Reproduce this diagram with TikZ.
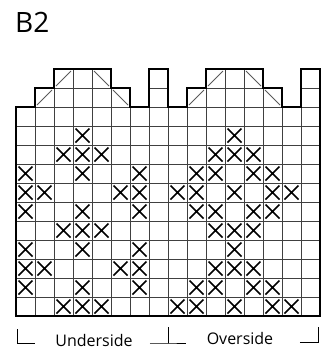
\documentclass[tikz,border=0pt]{standalone}
\usepackage{fontspec}
\setmainfont{Open Sans}
\begin{document}
\begin{tikzpicture}[x=1pt,y=-1pt,
  thin grid/.style={line width=0.9pt,draw=black!75},
  outline/.style={line width=2.8pt,line join=miter,draw=black},
  crossmark/.style={line width=1.5pt,draw=black},
  diag/.style={line width=0.8pt,draw=black!65},
  bracket/.style={line width=0.9pt,draw=black},
  lab/.style={font=\fontsize{16}{19}\selectfont,anchor=base}]
\useasboundingbox (0,0) rectangle (327,360);
% grid cells: column / number of extra rows above the body
\foreach \c/\e in {0/0,1/1,2/2,3/2,4/2,5/1,6/0,7/2,8/0,9/1,10/2,11/2,12/2,13/1,14/0,15/2}{
  \pgfmathtruncatemacro{\rs}{-\e}
  \foreach \r in {\rs,...,10}{
    \draw[thin grid] ({16+19*\c},{107+19*\r}) rectangle ++(19,19);
  }
}
% diagonals in the top cells
\foreach \c/\r in {1/-1,2/-2,9/-1,10/-2}{
  \draw[diag] ({16+19*\c+2},{107+19*\r+17}) -- ++(15,-15);
}
\foreach \c/\r in {4/-2,5/-1,12/-2,13/-1}{
  \draw[diag] ({16+19*\c+2},{107+19*\r+2}) -- ++(15,15);
}
% crosses
\foreach \c/\r in {
  3/1, 2/2,3/2,4/2, 0/3,3/3,6/3, 0/4,1/4,5/4,6/4, 0/5,3/5,6/5,
  2/6,3/6,4/6, 0/7,3/7,6/7, 0/8,1/8,5/8,6/8, 0/9,3/9,6/9, 2/10,3/10,4/10,
  11/1, 10/2,11/2,12/2, 9/3,10/3,12/3,13/3, 8/4,9/4,11/4,13/4,14/4,
  9/5,10/5,12/5,13/5, 10/6,11/6,12/6, 11/7, 10/8,11/8,12/8,
  9/9,10/9,12/9,13/9, 8/10,9/10,11/10,13/10,14/10}{
  \draw[crossmark] ({16+19*\c+2.5},{107+19*\r+2.5}) -- ++(14,14)
                   ({16+19*\c+16.5},{107+19*\r+2.5}) -- ++(-14,14);
}
% thick outline
\draw[outline] (16,316) -- (16,107) -- (35,107) -- (35,88) -- (54,88) -- (54,69)
  -- (111,69) -- (111,88) -- (130,88) -- (130,107) -- (149,107) -- (149,69)
  -- (168,69) -- (168,107) -- (187,107) -- (187,88) -- (206,88) -- (206,69)
  -- (263,69) -- (263,88) -- (282,88) -- (282,107) -- (301,107) -- (301,69)
  -- (320,69) -- (320,316) -- cycle;
% title
\node[font=\fontsize{28}{32}\selectfont,anchor=base west,inner sep=0pt] (title) at (15,32) {B2};
% brackets and labels
\coordinate (b1) at (17,329);
\coordinate (b2) at (17,343);
\coordinate (b3) at (35,343);
\draw[bracket] (b1) -- (b2) -- (b3);
\node[lab] (under) at (94,346) {Underside};
\coordinate (m1) at (150,343);
\coordinate (m2) at (168,343);
\coordinate (m3) at (168,327);
\coordinate (m4) at (186,343);
\draw[bracket] (m1) -- (m2) -- (m4) (m2) -- (m3);
\node[lab] (over) at (240,344) {Overside};
\coordinate (r1) at (300,342);
\coordinate (r2) at (318,342);
\coordinate (r3) at (318,327);
\draw[bracket] (r1) -- (r2) -- (r3);
\end{tikzpicture}
\end{document}
